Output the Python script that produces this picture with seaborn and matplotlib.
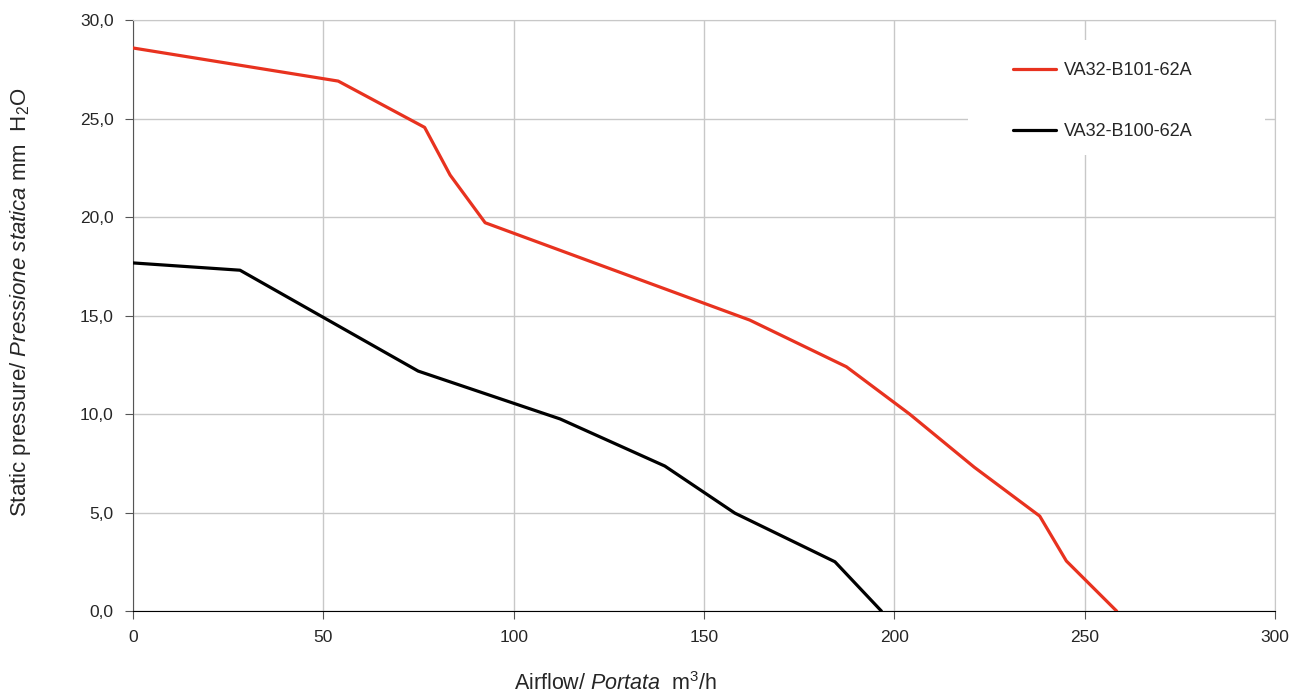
import matplotlib
matplotlib.use("Agg")
import matplotlib.pyplot as plt
import matplotlib.ticker as mticker
from matplotlib.patches import Rectangle
import seaborn as sns
import pandas as pd

# curve data
red_name = "VA32-B101-62A"
red_x = [0, 53.9, 76.6, 83.3, 92.5, 162.0, 187.4, 204.0, 221.0, 238.2, 245.2, 258.4]
red_y = [28.58, 26.9, 24.55, 22.13, 19.71, 14.77, 12.4, 10.0, 7.3, 4.82, 2.54, 0.0]

black_name = "VA32-B100-62A"
black_x = [0, 28.1, 74.9, 112.2, 139.7, 158.1, 184.4, 196.6]
black_y = [17.67, 17.3, 12.18, 9.75, 7.36, 4.97, 2.5, 0.0]

x_ticks = [0, 50, 100, 150, 200, 250, 300]
y_ticks = [0, 5, 10, 15, 20, 25, 30]

df = pd.concat([
    pd.DataFrame({"x": red_x, "y": red_y, "model": red_name}),
    pd.DataFrame({"x": black_x, "y": black_y, "model": black_name}),
])

sns.set_style("white")
plt.rcParams["font.family"] = ["Liberation Sans", "DejaVu Sans"]
plt.rcParams["mathtext.fontset"] = "custom"
plt.rcParams["mathtext.rm"] = "Liberation Sans"
plt.rcParams["mathtext.it"] = "Liberation Sans:italic"

fig = plt.figure(figsize=(13.11, 7), dpi=100)
ax = fig.add_axes([0.1015, 0.1271, 0.871, 0.8443])

sns.lineplot(data=df, x="x", y="y", hue="model", sort=False,
             palette={red_name: "#E8321F", black_name: "#000000"},
             linewidth=2.3, ax=ax, zorder=3)

ax.set_xlim(0, 300)
ax.set_ylim(0, 30)
ax.set_xticks(x_ticks)
ax.set_yticks(y_ticks)
ax.yaxis.set_major_formatter(mticker.FuncFormatter(lambda v, p: f"{v:.1f}".replace(".", ",")))
ax.grid(True, color="#c8c8c8", linewidth=1)
ax.set_axisbelow(True)
ax.tick_params(axis="both", labelsize=12.5, length=6, direction="out",
               left=True, bottom=True, color="#555555", pad=8)

for s in ["top", "right"]:
    ax.spines[s].set_color("#c8c8c8")
ax.spines["left"].set_color("#555555")
ax.spines["bottom"].set_color("#000000")

ax.set_xlabel(r"Airflow/ $\it{Portata}$  m$^3$/h", fontsize=15.5)
ax.xaxis.set_label_coords(0.423, -0.104)
ax.set_ylabel(r"Static pressure/ $\it{Pressione\ statica}$ mm  H$_2$O", fontsize=16)
ax.yaxis.set_label_coords(-0.088, 0.523)

# white box behind the legend, hiding the grid
ax.add_patch(Rectangle((0.731, 0.772), 0.26, 0.194, transform=ax.transAxes,
                       facecolor="white", edgecolor="none", zorder=2))

leg = ax.legend(loc="upper left", bbox_to_anchor=(0.7706, 0.929), fontsize=13,
                handlelength=2.4, handletextpad=0.4, labelspacing=2.45,
                borderpad=0, borderaxespad=0, frameon=False)
leg.set_zorder(5)

fig.savefig("out.png", dpi=100)
